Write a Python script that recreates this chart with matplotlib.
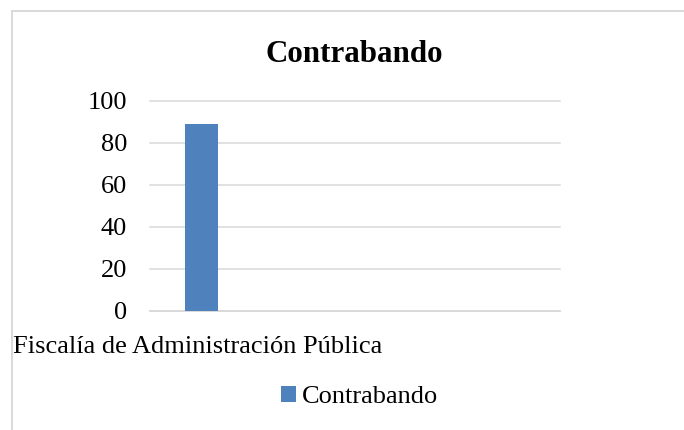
import matplotlib
matplotlib.use("Agg")
import matplotlib.pyplot as plt
import matplotlib.patches as mpatches
import numpy as np

# Data
categories = ["Fiscalía de Administración Pública", "", "", ""]
series_name = "Contrabando"
values = [89, np.nan, np.nan, np.nan]
y_ticks = [0, 20, 40, 60, 80, 100]
title = "Contrabando"

W, H = 684, 430
plt.rcParams['font.family'] = ['Liberation Serif', 'DejaVu Serif']
fig = plt.figure(figsize=(W / 100, H / 100), dpi=100)
fig.patch.set_facecolor('white')

# chart area border (cropped on right/bottom)
border = mpatches.Rectangle((12 / W, -0.2), 1.5, 1.2 - 11 / H,
                            transform=fig.transFigure, fill=False,
                            edgecolor='#d9d9d9', linewidth=1.4)
fig.patches.append(border)

ax = fig.add_axes([150 / W, 1 - 310.7 / H, 410 / W, 210 / H])
x = np.arange(len(categories))
bar_color = '#4f81bd'
ax.bar(x, values, width=0.32, color=bar_color, zorder=3, label=series_name)

ax.set_xlim(-0.5, len(categories) - 0.5)
ax.set_ylim(0, 100)
ax.set_yticks(y_ticks)
ax.set_yticklabels([str(v) for v in y_ticks], fontsize=19)
ax.tick_params(axis='y', length=0, pad=16.5)
ax.set_xticks([])
ax.yaxis.grid(True, color='#d9d9d9', linewidth=1.1, zorder=0)
for gl in ax.get_ygridlines():
    gl.set_clip_on(False)
ax.set_axisbelow(True)
for s in ['left', 'right', 'top']:
    ax.spines[s].set_visible(False)
ax.spines['bottom'].set_color('#d9d9d9')
ax.spines['bottom'].set_linewidth(1.1)

# category label (overflows to the left as in the original)
fig.text(13 / W, 1 - 353 / H, categories[0], fontsize=19, ha='left', va='baseline')

# title
fig.text(354.5 / W, 1 - 62 / H, title, fontsize=22.3, fontweight='bold',
         ha='center', va='baseline')

# legend
handles, labels = ax.get_legend_handles_labels()
fig.legend(handles, labels, loc='center', bbox_to_anchor=(359.5 / W, 1 - 397 / H),
           frameon=False, fontsize=19, handlelength=0.55, handleheight=0.55,
           handletextpad=0.23, borderpad=0, borderaxespad=0)

fig.savefig('out.png', dpi=100, facecolor='white')
